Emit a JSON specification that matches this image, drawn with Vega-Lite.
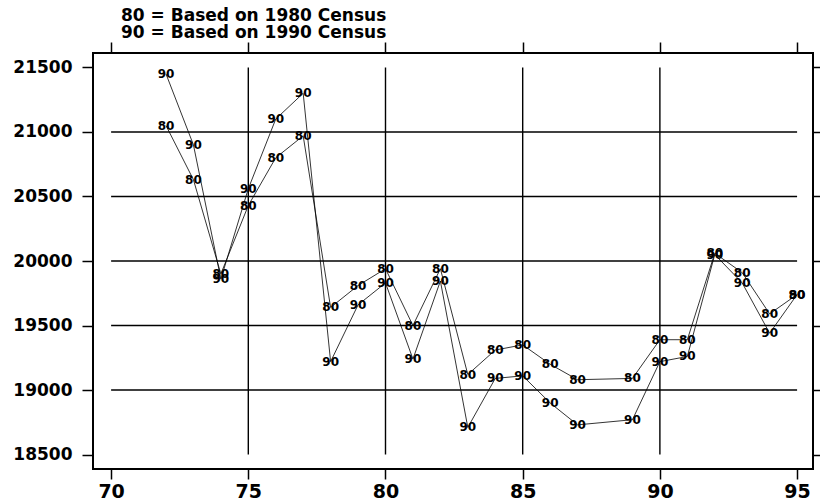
{
  "$schema": "https://vega.github.io/schema/vega-lite/v6.json",
  "width": 720,
  "height": 416,
  "autosize": {"type": "none"},
  "padding": {"left": 93, "top": 53, "right": 7, "bottom": 32},
  "background": "white",
  "title": {
    "text": ["80 = Based on 1980 Census", "90 = Based on 1990 Census"],
    "anchor": "start",
    "frame": "group",
    "dx": 28,
    "dy": 5,
    "font": "DejaVu Sans",
    "fontSize": 17,
    "fontWeight": "bold",
    "color": "black",
    "lineHeight": 17,
    "offset": 4
  },
  "datasets": {
    "grid": [
      {"x": 75, "x2": 75, "y": 18500, "y2": 21500},
      {"x": 80, "x2": 80, "y": 18500, "y2": 21500},
      {"x": 85, "x2": 85, "y": 18500, "y2": 21500},
      {"x": 90, "x2": 90, "y": 18500, "y2": 21500},
      {"x": 70, "x2": 95, "y": 19000, "y2": 19000},
      {"x": 70, "x2": 95, "y": 19500, "y2": 19500},
      {"x": 70, "x2": 95, "y": 20000, "y2": 20000},
      {"x": 70, "x2": 95, "y": 20500, "y2": 20500},
      {"x": 70, "x2": 95, "y": 21000, "y2": 21000}
    ],
    "estimates": [
      {"year": 72, "est": 21050, "base": "80"},
      {"year": 73, "est": 20630, "base": "80"},
      {"year": 74, "est": 19900, "base": "80"},
      {"year": 75, "est": 20430, "base": "80"},
      {"year": 76, "est": 20800, "base": "80"},
      {"year": 77, "est": 20970, "base": "80"},
      {"year": 78, "est": 19640, "base": "80"},
      {"year": 79, "est": 19810, "base": "80"},
      {"year": 80, "est": 19940, "base": "80"},
      {"year": 81, "est": 19500, "base": "80"},
      {"year": 82, "est": 19940, "base": "80"},
      {"year": 83, "est": 19120, "base": "80"},
      {"year": 84, "est": 19310, "base": "80"},
      {"year": 85, "est": 19350, "base": "80"},
      {"year": 86, "est": 19200, "base": "80"},
      {"year": 87, "est": 19080, "base": "80"},
      {"year": 89, "est": 19090, "base": "80"},
      {"year": 90, "est": 19390, "base": "80"},
      {"year": 91, "est": 19390, "base": "80"},
      {"year": 92, "est": 20060, "base": "80"},
      {"year": 93, "est": 19910, "base": "80"},
      {"year": 94, "est": 19590, "base": "80"},
      {"year": 95, "est": 19740, "base": "80"},
      {"year": 72, "est": 21450, "base": "90"},
      {"year": 73, "est": 20900, "base": "90"},
      {"year": 74, "est": 19860, "base": "90"},
      {"year": 75, "est": 20560, "base": "90"},
      {"year": 76, "est": 21100, "base": "90"},
      {"year": 77, "est": 21300, "base": "90"},
      {"year": 78, "est": 19220, "base": "90"},
      {"year": 79, "est": 19660, "base": "90"},
      {"year": 80, "est": 19830, "base": "90"},
      {"year": 81, "est": 19240, "base": "90"},
      {"year": 82, "est": 19845, "base": "90"},
      {"year": 83, "est": 18710, "base": "90"},
      {"year": 84, "est": 19090, "base": "90"},
      {"year": 85, "est": 19110, "base": "90"},
      {"year": 86, "est": 18900, "base": "90"},
      {"year": 87, "est": 18730, "base": "90"},
      {"year": 89, "est": 18770, "base": "90"},
      {"year": 90, "est": 19220, "base": "90"},
      {"year": 91, "est": 19260, "base": "90"},
      {"year": 92, "est": 20050, "base": "90"},
      {"year": 93, "est": 19830, "base": "90"},
      {"year": 94, "est": 19440, "base": "90"},
      {"year": 95, "est": 19740, "base": "90"}
    ]
  },
  "resolve": {"axis": {"x": "independent", "y": "independent"}},
  "layer": [
    {
      "data": {"name": "grid"},
      "mark": {"type": "rule", "color": "black", "strokeWidth": 1.4},
      "encoding": {
        "x": {
          "field": "x", "type": "quantitative",
          "scale": {"domain": [69.34, 95.58], "nice": false, "zero": false},
          "axis": {
            "orient": "bottom", "title": null, "values": [70, 75, 80, 85, 90, 95],
            "labelFontSize": 19, "tickSize": 10, "labelPadding": 3, "labelFlush": false
          }
        },
        "x2": {"field": "x2"},
        "y": {
          "field": "y", "type": "quantitative",
          "scale": {"domain": [18388, 21612], "nice": false, "zero": false},
          "axis": {
            "orient": "left", "title": null, "format": "d",
            "values": [18500, 19000, 19500, 20000, 20500, 21000, 21500],
            "labelFontSize": 17, "tickSize": 11, "labelPadding": 10
          }
        },
        "y2": {"field": "y2"}
      }
    },
    {
      "data": {"name": "estimates"},
      "mark": {"type": "line", "color": "black", "strokeWidth": 0.8},
      "encoding": {
        "x": {
          "field": "year", "type": "quantitative",
          "axis": {"orient": "top", "title": null, "labels": false, "values": [70, 75, 80, 85, 90, 95], "tickSize": 11}
        },
        "y": {
          "field": "est", "type": "quantitative",
          "axis": {"orient": "right", "title": null, "labels": false, "values": [18500, 19000, 19500, 20000, 20500, 21000, 21500], "tickSize": 10}
        },
        "detail": {"field": "base"},
        "order": {"field": "year"}
      }
    },
    {
      "data": {"name": "estimates"},
      "mark": {"type": "text", "font": "DejaVu Sans", "fontSize": 12, "fontWeight": "bold", "color": "black", "align": "center", "baseline": "middle"},
      "encoding": {
        "x": {"field": "year", "type": "quantitative", "axis": null},
        "y": {"field": "est", "type": "quantitative", "axis": null},
        "text": {"field": "base"}
      }
    }
  ],
  "config": {
    "view": {"stroke": "black", "strokeWidth": 2},
    "axis": {
      "domain": false,
      "grid": false,
      "labelFont": "DejaVu Sans",
      "labelFontWeight": "bold",
      "labelColor": "black",
      "tickColor": "black",
      "tickWidth": 1.5
    }
  }
}
